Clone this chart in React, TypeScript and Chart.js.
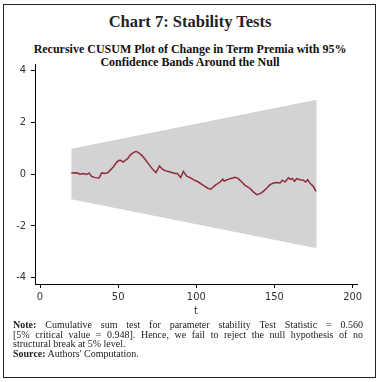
import React, { useEffect, useRef } from 'react';
import { Chart, registerables } from 'chart.js';

Chart.register(...registerables);

// CUSUM statistic (t, value)
const cusumT = [
  20, 23.5, 25.6, 27.7, 29.9, 31.4, 33, 35.2, 37.8, 39.5, 41.2, 43.3, 44.8, 46.9, 49.1,
  50.6, 51.8, 53.3, 54.8, 56.1, 57.6, 59.7, 61.5, 62.9, 65.1, 67.2, 69.3, 72.1, 74.2,
  76.4, 77.9, 80, 83.2, 86.4, 87.9, 90, 91.7, 93.9, 96, 98.1, 101.3, 104.5, 107.7,
  109.2, 112, 115.2, 116.9, 117.8, 121.6, 124.8, 126.9, 129.1, 131.2, 132.9, 134.4,
  136.5, 138.7, 140.8, 142.9, 145.1, 147.2, 149.3, 151.5, 153.6, 155.1, 156.8, 158.9,
  160, 161.5, 162.8, 164.3, 166.4, 168.5, 170, 171.3, 172.8, 174.3, 175.6, 176.5,
];
const cusumValues = [
  0.04, 0.05, -0.01, 0.02, -0.02, 0.04, -0.09, -0.14, -0.15, 0.04, 0.02, 0.05, 0.14, 0.27, 0.46,
  0.53, 0.52, 0.46, 0.54, 0.59, 0.72, 0.83, 0.88, 0.83, 0.72, 0.57, 0.4, 0.18, 0.05,
  0.31, 0.21, 0.13, 0.08, 0.02, 0.02, -0.14, 0.1, -0.08, -0.14, -0.22, -0.31, -0.44, -0.56,
  -0.59, -0.44, -0.31, -0.2, -0.27, -0.18, -0.13, -0.18, -0.31, -0.44, -0.5, -0.56,
  -0.69, -0.8, -0.76, -0.67, -0.54, -0.41, -0.35, -0.33, -0.35, -0.24, -0.31, -0.15,
  -0.2, -0.18, -0.28, -0.18, -0.22, -0.24, -0.31, -0.22, -0.37, -0.44, -0.56, -0.67,
];

// 95% confidence bands
const bandT = [20, 177];
const bandUpper = [0.98, 2.87];
const bandLower = [-0.98, -2.87];

const xTickStep = 50;
const yTickStep = 2;

const TICK_FONT = "'Liberation Sans Narrow', 'DejaVu Sans Condensed', 'Liberation Sans', sans-serif";
const SERIF = "'Liberation Serif', 'DejaVu Serif', serif";

function CusumChart() {
  const ref = useRef<HTMLCanvasElement | null>(null);
  useEffect(() => {
    if (!ref.current) return;
    const chart = new Chart(ref.current, {
      type: 'line',
      data: {
        datasets: [
          {
            label: 'CUSUM',
            data: cusumT.map((t, i) => ({ x: t, y: cusumValues[i] })),
            borderColor: '#8e2b39',
            borderWidth: 1.5,
            pointRadius: 0,
            fill: false,
            tension: 0,
          },
          {
            label: 'Upper',
            data: bandT.map((t, i) => ({ x: t, y: bandUpper[i] })),
            borderWidth: 0,
            borderColor: 'rgba(0,0,0,0)',
            backgroundColor: '#d3d3d5',
            pointRadius: 0,
            fill: '+1',
          },
          {
            label: 'Lower',
            data: bandT.map((t, i) => ({ x: t, y: bandLower[i] })),
            borderWidth: 0,
            borderColor: 'rgba(0,0,0,0)',
            pointRadius: 0,
            fill: false,
          },
        ],
      },
      options: {
        animation: false,
        responsive: false,
        layout: { padding: { top: 2, right: 19, left: 0, bottom: 0 } },
        plugins: {
          legend: { display: false },
          tooltip: { enabled: false },
          title: { display: false },
        },
        scales: {
          x: {
            type: 'linear',
            min: -3.2,
            max: 202.8,
            ticks: {
              stepSize: xTickStep,
              includeBounds: false,
              color: '#333',
              font: { family: TICK_FONT, size: 11 },
              padding: 3,
              maxRotation: 0,
            },
            grid: {
              drawOnChartArea: false,
              drawTicks: true,
              tickLength: 4,
              color: '#000',
              lineWidth: 1,
            },
            border: { display: true, color: '#000', width: 1 },
            title: {
              display: true,
              text: 't',
              color: '#333',
              font: { family: TICK_FONT, size: 11 },
              padding: { top: 0, bottom: 2 },
            },
            afterFit: (s: any) => {
              s.height = 36;
              s.paddingLeft = 0;
              s.paddingRight = 0;
            },
          },
          y: {
            type: 'linear',
            min: -4.25,
            max: 4.25,
            ticks: {
              stepSize: yTickStep,
              includeBounds: false,
              color: '#333',
              font: { family: TICK_FONT, size: 11 },
              padding: 5,
            },
            grid: {
              drawOnChartArea: false,
              drawTicks: true,
              tickLength: 4,
              color: '#000',
              lineWidth: 1,
            },
            border: { display: true, color: '#000', width: 1 },
            afterFit: (s: any) => {
              s.width = 32;
              s.paddingTop = 0;
              s.paddingBottom = 0;
            },
          },
        },
      },
    });
    return () => chart.destroy();
  }, []);
  return <canvas ref={ref} width={373} height={258} style={{ position: 'absolute', left: 3, top: 62 }} />;
}

export default function App() {
  const lineStyle: React.CSSProperties = {
    textAlign: 'justify',
    textAlignLast: 'justify' as any,
    whiteSpace: 'normal',
  };
  return (
    <div style={{ position: 'absolute', left: 0, top: 0, width: 380, height: 382, background: '#fff', overflow: 'hidden' }}>
      <div
        style={{
          position: 'absolute',
          left: 3,
          top: 4,
          width: 373,
          height: 374,
          border: '1.5px solid #222',
          boxSizing: 'border-box',
        }}
      />
      <div
        style={{
          position: 'absolute',
          left: 0,
          width: 380,
          top: 12,
          textAlign: 'center',
          fontFamily: SERIF,
          fontWeight: 'bold',
          fontSize: 16.5,
          lineHeight: '20px',
          color: '#222',
        }}
      >
        Chart 7: Stability Tests
      </div>
      <div
        style={{
          position: 'absolute',
          left: 0,
          width: 380,
          top: 43,
          textAlign: 'center',
          fontFamily: SERIF,
          fontWeight: 'bold',
          fontSize: 12,
          lineHeight: '13px',
          color: '#111',
        }}
      >
        <div>Recursive CUSUM Plot of Change in Term Premia with 95%</div>
        <div>Confidence Bands Around the Null</div>
      </div>
      <CusumChart />
      <div
        style={{
          position: 'absolute',
          left: 13,
          width: 350,
          top: 320,
          fontFamily: SERIF,
          fontSize: 10,
          lineHeight: '9.5px',
          color: '#222',
        }}
      >
        <div style={lineStyle}>
          <b>Note:</b> Cumulative sum test for parameter stability Test Statistic = 0.560
        </div>
        <div style={lineStyle}>
          [5% critical value = 0.948]. Hence, we fail to reject the null hypothesis of no
        </div>
        <div>structural break at 5% level.</div>
        <div>
          <b>Source:</b> Authors' Computation.
        </div>
      </div>
    </div>
  );
}
